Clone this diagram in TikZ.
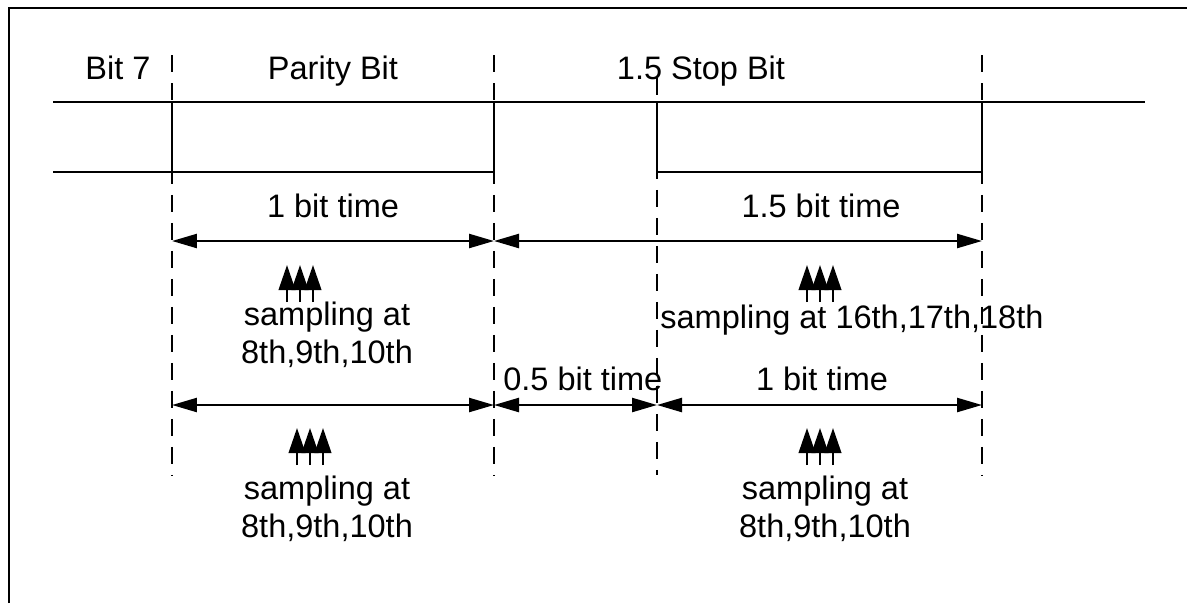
\documentclass[tikz,border=0pt]{standalone}
\usepackage{fontspec}
\setmainfont{Liberation Sans}
\usetikzlibrary{arrows.meta,positioning}
\tikzset{
  lbl/.style={inner sep=0pt, anchor=base, font=\fontsize{18.5}{22}\selectfont},
  sig/.style={line width=1.35pt},
  guide/.style={line width=1.35pt, dash pattern=on 0.34cm off 0.22cm},
  span/.style={{Triangle[length=0.5cm,width=0.28cm]}-{Triangle[length=0.5cm,width=0.28cm]}, line width=1.35pt},
  sample/.style={-{Triangle[length=0.5cm,width=0.33cm]}, line width=1.35pt}
}

\begin{document}
\begin{tikzpicture}[x=0.02cm,y=-0.02cm]
\useasboundingbox (0,0) rectangle (1187,603);
% frame
\draw[line width=1.4pt] (9,603) -- (9,8) -- (1187,8);

% bit boundaries
\foreach \x/\n in {172/a,494/b,657/c,982/d}{
  \coordinate (\n-top) at (\x,55);
  \coordinate (\n-hi) at (\x,102);
  \coordinate (\n-lo) at (\x,172);
  \coordinate (\n-1) at (\x,241);
  \coordinate (\n-2) at (\x,405);
  \coordinate (\n-bot) at (\x,475);
}
\coordinate (c-top) at (657,78);
\foreach \n in {a,b,c,d}
  \draw[guide] (\n-top) -- (\n-bot);

% waveform
\coordinate (hiL) at (53,102);
\coordinate (hiR) at (1145,102);
\coordinate (loL) at (53,172);
\draw[sig] (hiL) -- (hiR);
\draw[sig] (loL) -- (b-lo) -- (b-hi);
\draw[sig] (a-hi) -- (a-lo);
\draw[sig] (c-hi) -- (c-lo) -- (d-lo) -- (d-hi);

% headings
\node[lbl] (bit7) at (118,79) {Bit 7};
\node[lbl] (parity) at (333,79) {Parity Bit};
\node[lbl] (stop) at (701,79) {1.5 Stop Bit};

% first row of spans
\draw[span] (a-1) -- (b-1);
\draw[span] (b-1) -- (d-1);
\node[lbl] (onebit1) at (333,217) {1 bit time};
\node[lbl] (stopbit) at (821,217) {1.5 bit time};

% second row of spans
\draw[span] (a-2) -- (b-2);
\draw[span] (b-2) -- (c-2);
\draw[span] (c-2) -- (d-2);
\node[lbl, anchor=base west] (halfbit) at (503,390) {0.5 bit time};
\node[lbl] (onebit2) at (822,390) {1 bit time};

% sampling points
\foreach \x/\y in {287/265,807/265,297/428,807/428}
  \foreach \dx in {0,13,26}
    \draw[sample] (\x+\dx,\y+37) -- (\x+\dx,\y);

\node[lbl] (sampA) at (327,325) {sampling at};
\node[lbl] (sampAn) at (327,363) {8th,9th,10th};
\node[lbl, anchor=base west] (sampB) at (660,328) {sampling at 16th,17th,18th};
\node[lbl] (sampC) at (327,499) {sampling at};
\node[lbl] (sampCn) at (327,537) {8th,9th,10th};
\node[lbl] (sampD) at (825,499) {sampling at};
\node[lbl] (sampDn) at (825,537) {8th,9th,10th};
\end{tikzpicture}
\end{document}
